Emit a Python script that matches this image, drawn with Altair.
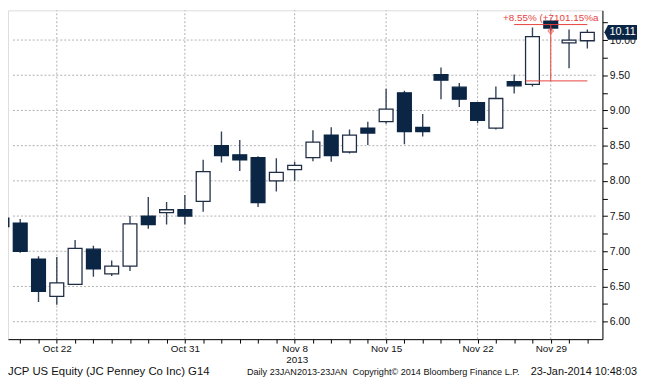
import altair as alt
import pandas as pd

# ---------------- data ----------------
dates = ["Oct 17", "Oct 18", "Oct 21", "Oct 22", "Oct 23", "Oct 24", "Oct 25",
         "Oct 28", "Oct 29", "Oct 30", "Oct 31", "Nov 1", "Nov 4", "Nov 5",
         "Nov 6", "Nov 7", "Nov 8", "Nov 11", "Nov 12", "Nov 13", "Nov 14",
         "Nov 15", "Nov 18", "Nov 19", "Nov 20", "Nov 21", "Nov 22", "Nov 25",
         "Nov 26", "Nov 27", "Nov 29", "Dec 2", "Dec 3"]
opens = [7.47, 7.40, 6.89, 6.36, 6.53, 7.03, 6.68, 6.79, 7.50, 7.55, 7.59,
         7.71, 8.50, 8.37, 8.33, 8.00, 8.16, 8.33, 8.65, 8.41, 8.75, 8.84,
         9.25, 8.76, 9.51, 9.33, 9.11, 8.75, 9.41, 9.37, 10.27, 9.96, 9.99]
closes = [7.35, 7.00, 6.43, 6.55, 7.04, 6.75, 6.79, 7.39, 7.38, 7.59, 7.50,
          8.13, 8.36, 8.30, 7.69, 8.12, 8.22, 8.55, 8.36, 8.65, 8.68, 9.02,
          8.70, 8.70, 9.43, 9.16, 8.86, 9.17, 9.35, 10.05, 10.17, 10.00, 10.11]
highs = [7.50, 7.46, 6.93, 6.92, 7.16, 7.08, 6.87, 7.50, 7.77, 7.70, 7.80,
         8.30, 8.70, 8.58, 8.35, 8.32, 8.27, 8.72, 8.76, 8.73, 8.84, 9.31,
         9.28, 8.95, 9.61, 9.39, 9.11, 9.34, 9.51, 10.18, 10.28, 10.15, 10.15]
lows = [7.30, 6.98, 6.28, 6.24, 6.53, 6.64, 6.65, 6.72, 7.32, 7.38, 7.38,
        7.56, 8.26, 8.14, 7.63, 7.85, 8.00, 8.28, 8.27, 8.39, 8.51, 8.81,
        8.52, 8.63, 9.16, 9.05, 8.82, 8.73, 9.24, 9.34, 10.12, 9.60, 9.88]

label_dates = ["Oct 22", "Oct 31", "Nov 8", "Nov 15", "Nov 22", "Nov 29"]
year_label = "2013"
y_tick_values = [6.00, 6.25, 6.50, 6.75, 7.00, 7.25, 7.50, 7.75, 8.00, 8.25,
                 8.50, 8.75, 9.00, 9.25, 9.50, 9.75, 10.00, 10.25]
grid_levels = [6.0, 6.5, 7.0, 7.5, 8.0, 8.5, 9.0, 9.5, 10.0]

last_price = 10.11
measure_from = ["Nov 26", "Nov 27", "Nov 29"]
measure_low = 9.42
measure_high = 10.22
measure_text = "+8.55% (+7101.15%a"

footer_left = "JCP US Equity (JC Penney Co Inc) G14"
footer_mid = "Daily 23JAN2013-23JAN"
footer_copy = "Copyright\u00a9 2014 Bloomberg Finance L.P."
footer_right = "23-Jan-2014 10:48:03"

# ---------------- scales ----------------
X_DOM = [0.602, 32.555]
Y_DOM = [5.752, 10.4222]

# ---------------- tables ----------------
df = pd.DataFrame({"idx": list(range(len(dates))), "date": dates, "open": opens,
                   "close": closes, "high": highs, "low": lows})
df["dir"] = ["up" if c >= o else "down" for o, c in zip(opens, closes)]

label_idx = [dates.index(d) for d in label_dates]

# grid segments: horizontal at each level, vertical at each labelled date
grid_seg = pd.DataFrame({
    "x1": [X_DOM[0]] * len(grid_levels) + [float(i) for i in label_idx],
    "x2": [X_DOM[1]] * len(grid_levels) + [float(i) for i in label_idx],
    "y1": list(grid_levels) + [Y_DOM[0]] * len(label_idx),
    "y2": list(grid_levels) + [Y_DOM[1]] * len(label_idx),
})

i_a, i_b, i_c = [dates.index(d) for d in measure_from]
seg = pd.DataFrame({
    "x1": [i_a, i_b - 0.37, i_c],
    "x2": [len(dates) - 1, len(dates) - 1, i_c],
    "y1": [measure_high, measure_low, measure_low],
    "y2": [measure_high, measure_low, measure_high],
})
mtext = pd.DataFrame({"idx": [i_c], "v": [measure_high + 0.09], "t": [measure_text]})
mmark = pd.DataFrame({"idx": [i_c], "v": [closes[i_c] - 0.04]})
lastdf = pd.DataFrame({"v": [last_price], "t": [f"{last_price:.2f}"]})
one = pd.DataFrame({"a": [0]})

# ---------------- styling ----------------
FONT = "Liberation Sans"
NAVY = "#0b2545"
RED = "#e8413c"
GRID = "#b0b0b0"

expr = " : ".join(f"datum.value == {i} ? '{d}'" for i, d in zip(label_idx, label_dates)) + " : ''"

x_scale = alt.Scale(domain=X_DOM, nice=False, zero=False)
y_scale = alt.Scale(domain=Y_DOM, nice=False, zero=False)

x_axis = alt.Axis(values=list(range(1, len(dates))), labelExpr=expr, grid=False,
                  tickSize=4, tickColor="#000", domainColor="#000", domainWidth=1,
                  labelFont=FONT, labelFontSize=10, labelColor="#111",
                  labelPadding=1, labelOverlap=False, labelFlush=False, title=None)
y_axis = alt.Axis(orient="right", values=y_tick_values,
                  labelExpr="(round(datum.value*100) % 50 == 0) ? format(datum.value, '.2f') : ''",
                  grid=False, tickSize=5, tickColor="#000", domainColor="#000",
                  domainWidth=1, labelFont=FONT, labelFontSize=10.5, labelColor="#111",
                  labelPadding=2, labelOverlap=False, labelFlush=False, title=None)

X = lambda f: alt.X(f, scale=x_scale, axis=x_axis)
Y = lambda f: alt.Y(f, scale=y_scale, axis=y_axis)

grid = alt.Chart(grid_seg).mark_rule(color=GRID, strokeWidth=1, strokeDash=[2, 2]).encode(
    x=X("x1:Q"), x2="x2:Q", y=Y("y1:Q"), y2="y2:Q")

wicks = alt.Chart(df).mark_rule(color="#34435a", strokeWidth=1.4, clip=True).encode(
    x=X("idx:Q"), y=Y("low:Q"), y2="high:Q")
bodies = alt.Chart(df).mark_bar(size=14, strokeWidth=1.3, clip=True).encode(
    x=X("idx:Q"), y=Y("open:Q"), y2="close:Q",
    fill=alt.Fill("dir:N", scale=alt.Scale(domain=["up", "down"], range=["#ffffff", NAVY]), legend=None),
    stroke=alt.Stroke("dir:N", scale=alt.Scale(domain=["up", "down"], range=["#1f2d44", NAVY]), legend=None))

segs = alt.Chart(seg).mark_rule(color=RED, strokeWidth=1).encode(
    x=X("x1:Q"), x2="x2:Q", y=Y("y1:Q"), y2="y2:Q")
mt = alt.Chart(mtext).mark_text(color=RED, font=FONT, fontSize=10, align="center",
                                baseline="middle").encode(x=X("idx:Q"), y=Y("v:Q"), text="t:N")
mm = alt.Chart(mmark).mark_point(shape="cross", color=RED, size=25, strokeWidth=1).encode(
    x=X("idx:Q"), y=Y("v:Q"))

box = alt.Chart(lastdf).mark_point(
    shape="M -1 0 L -0.78 -0.45 L 1 -0.45 L 1 0.45 L -0.78 0.45 Z",
    filled=True, fill=NAVY, opacity=1, size=1089, strokeWidth=0).encode(
    x=alt.value(620.5), y=Y("v:Q"))
boxt = alt.Chart(lastdf).mark_text(color="#ffffff", font=FONT, fontSize=11, align="center",
                                   baseline="middle").encode(
    x=alt.value(622.5), y=Y("v:Q"), text="t:N")


def txt(s, x, y, align="left", size=10):
    return alt.Chart(one).mark_text(text=s, font=FONT, fontSize=size, color="#111",
                                    align=align, baseline="middle").encode(
        x=alt.value(x), y=alt.value(y))


chart = alt.layer(
    grid, wicks, bodies, segs, mm, mt, box, boxt,
    txt(year_label, 293, 354, "center"),
    txt(footer_left, 0, 366, size=11.5),
    txt(footer_mid, 242, 366, size=9.2),
    txt(footer_copy, 349, 366, size=9.2),
    txt(footer_right, 637, 366, "right", size=11),
).properties(
    width=602, height=333,
    padding={"left": 0, "top": 0, "right": 35, "bottom": 38},
    autosize=alt.AutoSizeParams(type="none"),
).configure_view(stroke=None).configure(background="#ffffff")

chart.save("out.html", embed_options={"renderer": "svg", "actions": False})
